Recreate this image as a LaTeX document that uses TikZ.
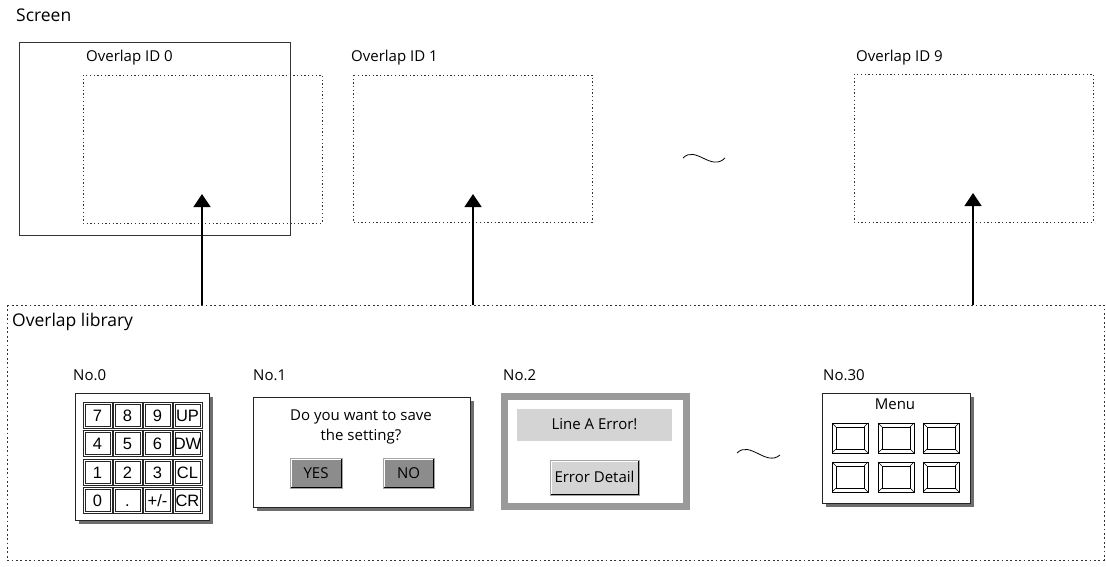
\documentclass[tikz,border=0pt]{standalone}
\usepackage{fontspec}
\setmainfont{Open Sans}
\newfontfamily\arialf{Liberation Sans}
\usetikzlibrary{arrows.meta}
\definecolor{btngray}{HTML}{8C8C8C}
\definecolor{ltgray}{HTML}{D4D4D4}
\definecolor{frgray}{HTML}{9A9A9A}
\definecolor{shgray}{HTML}{6E6E6E}
\newcommand\menubtn[2]{%
  \draw[line width=0.7pt] (#1,#2) rectangle ++(36,30);
  \draw[line width=0.6pt] (#1+4,#2+4) rectangle ++(28,22);
  \draw[line width=0.6pt] (#1,#2) -- ++(4,4) (#1+36,#2) -- ++(-4,4)
     (#1,#2+30) -- ++(4,-4) (#1+36,#2+30) -- ++(-4,-4);}
\newcommand\bevbtn[5]{% x1 y1 x2 y2 fill
  \fill[#5] (#1,#2) rectangle (#3,#4);
  \draw[black!35, line width=0.6pt] (#1,#2) rectangle (#3,#4);
  \draw[white, line width=1pt] (#1+1,#4-1.5) -- (#1+1,#2+1) -- (#3-1.5,#2+1);
  \draw[black, line width=1.1pt] (#1+0.5,#4-0.6) -- (#3-0.6,#4-0.6) -- (#3-0.6,#2+0.5);}
\begin{document}
\begin{tikzpicture}[x=1pt,y=-1pt,
  lbl/.style={anchor=west,inner sep=0,font=\fontsize{15}{17}\selectfont},
  biglbl/.style={anchor=west,inner sep=0,font=\fontsize{17.5}{20}\selectfont},
  txt/.style={inner sep=0,font=\fontsize{15}{17}\selectfont},
  keyfont/.style={anchor=base,inner sep=0,font=\arialf\fontsize{16.5}{18}\selectfont},
  dotbox/.style={draw=black!80,line width=0.9pt,dash pattern=on 1.3pt off 2.4pt},
  libbox/.style={draw=black!80,line width=0.9pt,dash pattern=on 1.8pt off 2.6pt},
  arr/.style={line width=1.4pt,-{Triangle[width=17pt,length=13pt]}},
  keyline/.style={draw=black!85,line width=0.6pt},
  panel/.style={draw=black!85,line width=0.8pt,fill=white}]
\useasboundingbox (0,0) rectangle (1106,567);
\fill[white] (0,0) rectangle (1106,567);

% ---- screen row
\node[biglbl] (scr) at (16,15) {Screen};
\draw[black!80,line width=0.9pt] (19,42) rectangle (290,235);
\draw[dotbox] (83,75) rectangle (322,223);
\node[lbl] (id0) at (86,58) {Overlap ID 0};
\draw[dotbox] (353,75) rectangle (592,222);
\node[lbl] (id1) at (351,58) {Overlap ID 1};
\draw[dotbox] (854,74) rectangle (1093,222);
\node[lbl] (id9) at (856,58) {Overlap ID 9};
\draw[line width=0.8pt] (683,158) .. controls (696,145) and (711,172) .. (725,158);

% ---- library
\draw[libbox] (7,305) rectangle (1104,560);
\node[biglbl] (lib) at (12,322) {Overlap library};

\coordinate (s0) at (202,305); \coordinate (e0) at (202,194);
\coordinate (s1) at (473,305); \coordinate (e1) at (473,194);
\coordinate (s9) at (973,305); \coordinate (e9) at (973,193);
\draw[arr] (s0) -- (e0);
\draw[arr] (s1) -- (e1);
\draw[arr] (s9) -- (e9);

% ---- No.0 keypad
\node[lbl] (n0) at (73,375) {No.0};
\fill[shgray] (79,397) rectangle (213,524);
\draw[panel] (75,393) rectangle (209,520);
\foreach \lab [count=\i from 0] in {7,8,9,UP,4,5,6,DW,1,2,3,CL,0,.,+/-,CR} {
  \pgfmathsetmacro\kx{83+mod(\i,4)*30}
  \pgfmathsetmacro\ky{402+int(\i/4)*28.5}
  \draw[keyline] (\kx,\ky) rectangle ++(29,26);
  \draw[keyline] (\kx+1.8,\ky+1.8) rectangle ++(25.4,22.4);
  \node[keyfont] (k\i) at (\kx+14.5,\ky+19) {\lab};
}

% ---- No.1 dialog
\node[lbl] (n1) at (253,375) {No.1};
\fill[shgray] (257,401) rectangle (474,511);
\draw[panel] (253,397) rectangle (470,507);
\node[txt] (q1) at (361,417) {Do you want to save};
\node[txt] (q2) at (361,437) {the setting?};
\bevbtn{290}{458}{342}{488}{btngray}
\node[txt] (yes) at (316,473) {YES};
\bevbtn{383}{458}{434}{488}{btngray}
\node[txt] (no) at (408.5,473) {NO};

% ---- No.2 error
\node[lbl] (n2) at (503,375) {No.2};
\fill[frgray] (501,393) rectangle (690,510);
\fill[white] (508,400) rectangle (683,503);
\fill[ltgray] (517,409) rectangle (672,441);
\node[txt] (err) at (594.5,424) {Line A Error!};
\bevbtn{550}{460}{639}{495}{ltgray}
\node[txt] (det) at (594.5,477) {Error Detail};

% ---- tilde
\draw[line width=0.8pt] (737,453) .. controls (750,440) and (766,467) .. (780,455);

% ---- No.30 menu
\node[lbl] (n30) at (823,375) {No.30};
\fill[shgray] (826,397) rectangle (974,507);
\draw[panel] (822,393) rectangle (970,503);
\node[txt] (menu) at (895,404) {Menu};
\menubtn{832}{423}
\menubtn{878}{423}
\menubtn{923}{423}
\menubtn{832}{462}
\menubtn{878}{462}
\menubtn{923}{462}
\end{tikzpicture}
\end{document}
